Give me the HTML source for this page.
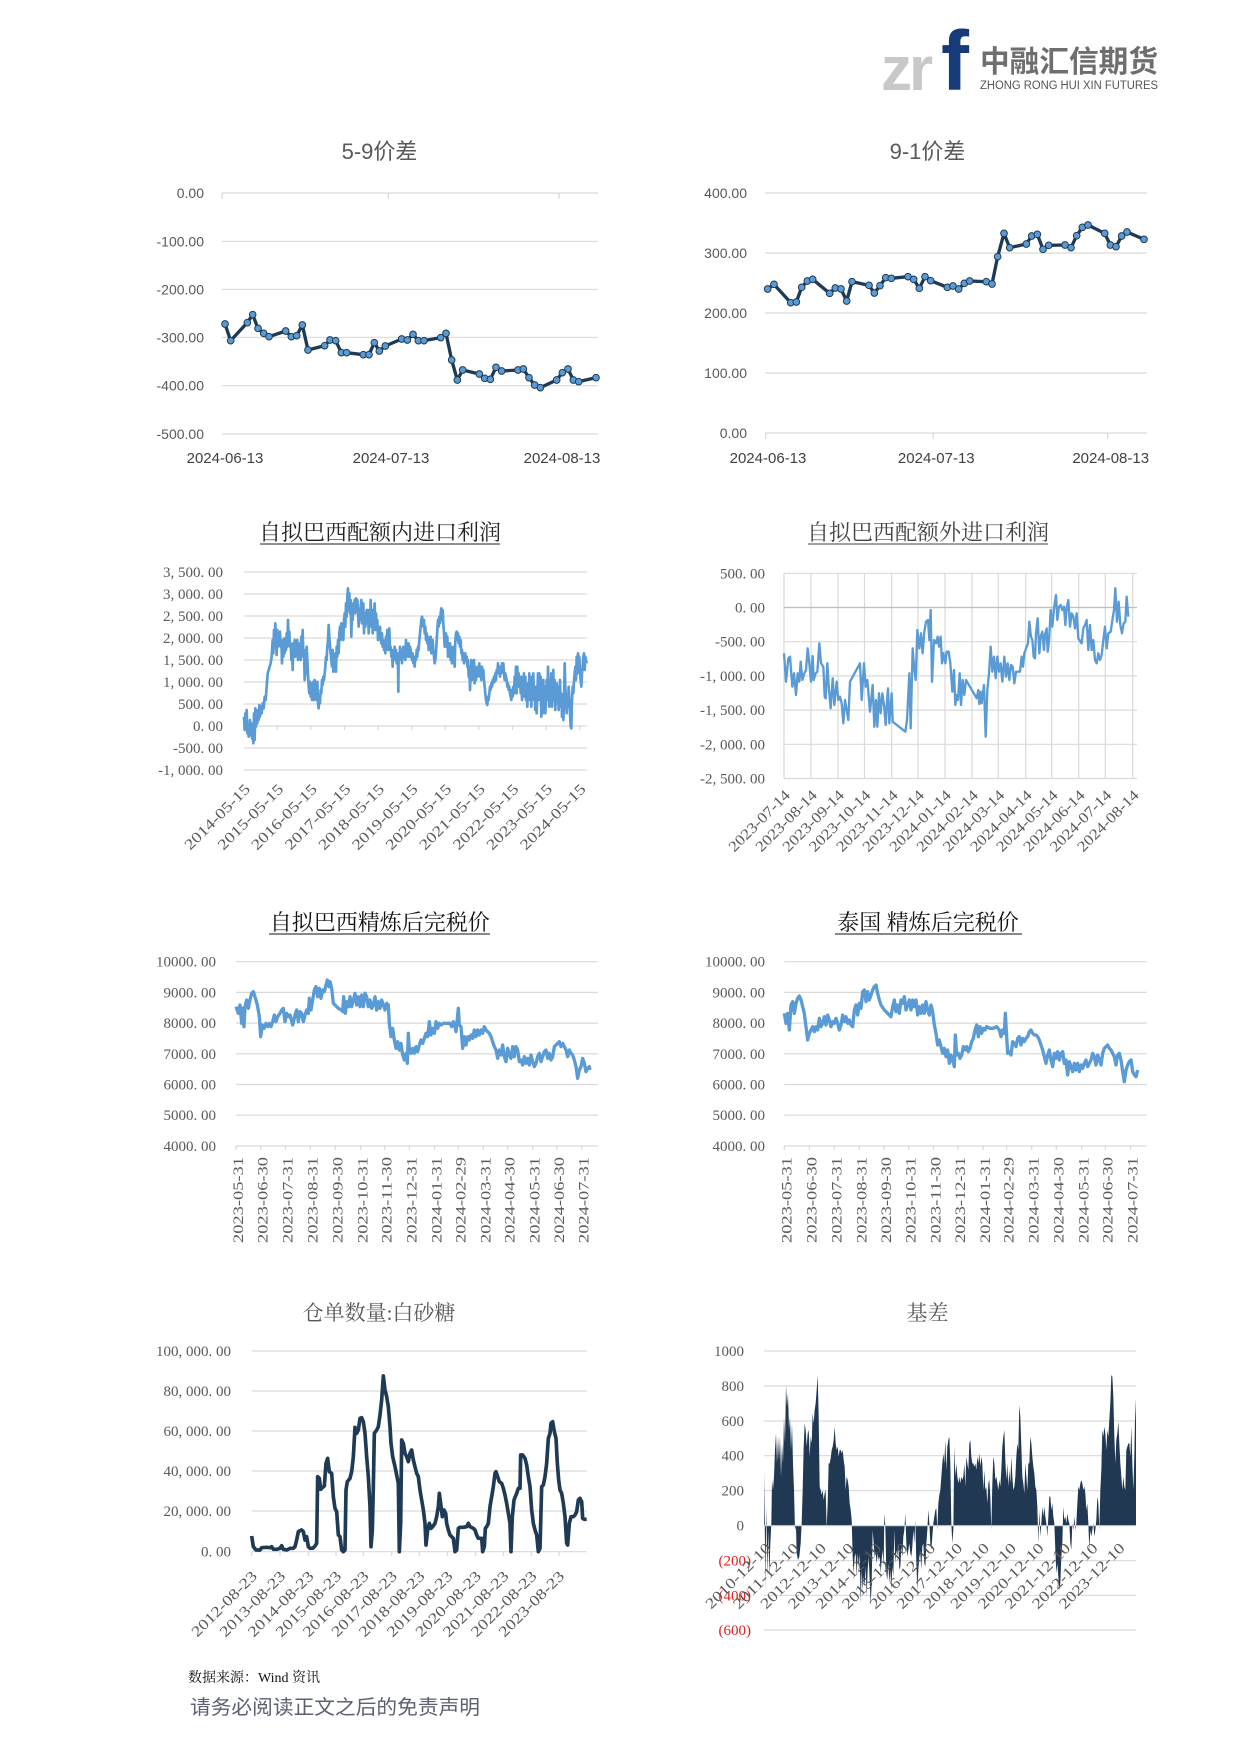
<!DOCTYPE html>
<html><head><meta charset="utf-8"><style>
html,body{margin:0;padding:0;background:#fff;}
svg{display:block;}
.sans{font-family:"Liberation Sans","Noto Sans CJK SC",sans-serif;}
.serif{font-family:"Liberation Serif","Noto Serif CJK SC",serif;}
.g{stroke:#d9d9d9;stroke-width:1.2;}
.yl{font-size:15px;fill:#595959;text-anchor:end;font-family:"Liberation Serif","Noto Serif CJK SC",serif;}
.ys{font-size:14px;fill:#595959;text-anchor:end;font-family:"Liberation Sans","Noto Sans CJK SC",sans-serif;}
.xs{font-size:15px;fill:#404040;text-anchor:middle;font-family:"Liberation Sans","Noto Sans CJK SC",sans-serif;}
.xr{font-size:15px;fill:#595959;text-anchor:end;font-family:"Liberation Serif","Noto Serif CJK SC",serif;}
</style></head><body>
<svg width="1241" height="1755" viewBox="0 0 1241 1755" xmlns="http://www.w3.org/2000/svg">
<defs>
<marker id="dot" markerUnits="userSpaceOnUse" markerWidth="26" markerHeight="26" refX="13" refY="13" viewBox="0 0 26 26" orient="0">
<circle cx="13" cy="13" r="10" fill="#5B9BD5" stroke="#1F3A55" stroke-width="3"/>
</marker>
</defs>
<rect width="1241" height="1755" fill="#fff"/>

<!-- LOGO -->
<text x="881" y="90" class="sans" font-size="62" font-weight="bold" fill="#c8c8c8" letter-spacing="-3">zr</text>
<text x="941" y="90" class="sans" font-size="84" font-weight="bold" fill="#173a7a">f</text>
<text x="980" y="72" font-family="'Noto Sans CJK SC',sans-serif" font-size="30" font-weight="bold" fill="#6e6e6e" textLength="178" lengthAdjust="spacingAndGlyphs">中融汇信期货</text>
<text x="980" y="89" class="sans" font-size="11.5" fill="#555" textLength="178" lengthAdjust="spacingAndGlyphs">ZHONG RONG HUI XIN FUTURES</text>

<!-- ===== ROW 1 LEFT: 5-9 ===== -->
<text x="379.5" y="159" class="sans" font-size="22" fill="#595959" text-anchor="middle">5-9价差</text>
<g class="g">
<line x1="222" y1="193" x2="598" y2="193"/><line x1="222" y1="241.3" x2="598" y2="241.3"/><line x1="222" y1="289.3" x2="598" y2="289.3"/><line x1="222" y1="337.3" x2="598" y2="337.3"/><line x1="222" y1="385.7" x2="598" y2="385.7"/><line x1="222" y1="434" x2="598" y2="434"/>
<line x1="222" y1="193" x2="222" y2="199"/><line x1="388.3" y1="193" x2="388.3" y2="199"/><line x1="559" y1="193" x2="559" y2="199"/>
</g>
<text class="ys" x="204" y="198">0.00</text>
<text class="ys" x="204" y="246.3">-100.00</text>
<text class="ys" x="204" y="294.3">-200.00</text>
<text class="ys" x="204" y="342.3">-300.00</text>
<text class="ys" x="204" y="390.7">-400.00</text>
<text class="ys" x="204" y="439">-500.00</text>
<text class="xs" x="225" y="463">2024-06-13</text>
<text class="xs" x="391" y="463">2024-07-13</text>
<text class="xs" x="562" y="463">2024-08-13</text>
<g transform="translate(130,120) scale(0.333333)">
<polyline fill="none" stroke="#1F3A55" stroke-width="10" stroke-linejoin="round" marker-start="url(#dot)" marker-mid="url(#dot)" marker-end="url(#dot)" points="285,612 302,662 352,608 368,584 384,625 401,640 417,650 467,633 484,650 500,647 517,615 534,690 584,677 600,660 617,662 634,698 650,698 700,704 717,704 733,668 748,693 766,678 815,657 832,660 849,643 865,662 882,662 932,653 948,640 965,720 982,780 998,750 1048,762 1064,775 1081,778 1098,742 1115,753 1164,750 1180,747 1197,773 1214,795 1231,803 1280,780 1297,758 1314,747 1330,780 1346,785 1398,773"/>
</g>

<!-- ===== ROW 1 RIGHT: 9-1 ===== -->
<text x="927.5" y="159" class="sans" font-size="22" fill="#595959" text-anchor="middle">9-1价差</text>
<g class="g">
<line x1="765" y1="193" x2="1147" y2="193"/><line x1="765" y1="253" x2="1147" y2="253"/><line x1="765" y1="313" x2="1147" y2="313"/><line x1="765" y1="373" x2="1147" y2="373"/><line x1="765" y1="433" x2="1147" y2="433"/>
<line x1="765.7" y1="433" x2="765.7" y2="439"/><line x1="933.3" y1="433" x2="933.3" y2="439"/><line x1="1107.7" y1="433" x2="1107.7" y2="439"/>
</g>
<text class="ys" x="747" y="198">400.00</text>
<text class="ys" x="747" y="258">300.00</text>
<text class="ys" x="747" y="318">200.00</text>
<text class="ys" x="747" y="378">100.00</text>
<text class="ys" x="747" y="438">0.00</text>
<text class="xs" x="768" y="463">2024-06-13</text>
<text class="xs" x="936.3" y="463">2024-07-13</text>
<text class="xs" x="1110.7" y="463">2024-08-13</text>
<g transform="translate(670,120) scale(0.333333)">
<polyline fill="none" stroke="#1F3A55" stroke-width="10" stroke-linejoin="round" marker-start="url(#dot)" marker-mid="url(#dot)" marker-end="url(#dot)" points="293,507 312,493 362,548 379,546 395,502 412,483 428,478 479,520 496,504 513,507 530,543 546,485 597,496 613,519 630,497 647,473 664,475 714,470 731,478 748,505 765,470 782,482 832,502 849,498 866,507 883,490 899,483 949,485 966,492 983,410 1002,340 1019,383 1069,372 1085,348 1102,343 1119,388 1136,376 1185,375 1203,383 1220,347 1237,322 1254,315 1304,340 1321,375 1338,380 1355,348 1371,336 1422,358"/>
</g>

<!-- ===== ROW 2 LEFT ===== -->
<text x="380" y="540" class="serif" font-size="22" fill="#222" text-anchor="middle">自拟巴西配额内进口利润</text>
<line x1="260" y1="544" x2="500" y2="544" stroke="#222" stroke-width="1"/>
<g class="g">
<line x1="244" y1="572" x2="587" y2="572"/><line x1="244" y1="594" x2="587" y2="594"/><line x1="244" y1="616" x2="587" y2="616"/><line x1="244" y1="638" x2="587" y2="638"/><line x1="244" y1="660" x2="587" y2="660"/><line x1="244" y1="682" x2="587" y2="682"/><line x1="244" y1="704" x2="587" y2="704"/><line x1="244" y1="726" x2="587" y2="726"/><line x1="244" y1="748" x2="587" y2="748"/><line x1="244" y1="770" x2="587" y2="770"/>
<line x1="244" y1="726" x2="244" y2="730"/><line x1="277.3" y1="726" x2="277.3" y2="730"/><line x1="310.9" y1="726" x2="310.9" y2="730"/><line x1="344.5" y1="726" x2="344.5" y2="730"/><line x1="378.1" y1="726" x2="378.1" y2="730"/><line x1="411.7" y1="726" x2="411.7" y2="730"/><line x1="445.3" y1="726" x2="445.3" y2="730"/><line x1="478.9" y1="726" x2="478.9" y2="730"/><line x1="512.5" y1="726" x2="512.5" y2="730"/><line x1="546.1" y1="726" x2="546.1" y2="730"/><line x1="579.7" y1="726" x2="579.7" y2="730"/>
</g>
<text class="yl" x="223" y="577">3, 500. 00</text>
<text class="yl" x="223" y="599">3, 000. 00</text>
<text class="yl" x="223" y="621">2, 500. 00</text>
<text class="yl" x="223" y="643">2, 000. 00</text>
<text class="yl" x="223" y="665">1, 500. 00</text>
<text class="yl" x="223" y="687">1, 000. 00</text>
<text class="yl" x="223" y="709">500. 00</text>
<text class="yl" x="223" y="731">0. 00</text>
<text class="yl" x="223" y="753">-500. 00</text>
<text class="yl" x="223" y="775">-1, 000. 00</text>
<g class="xr" font-size="16">
<text x="251" y="790" transform="rotate(-45 251 790)" textLength="86" lengthAdjust="spacingAndGlyphs">2014-05-15</text>
<text x="284.3" y="790" transform="rotate(-45 284.3 790)" textLength="86" lengthAdjust="spacingAndGlyphs">2015-05-15</text>
<text x="317.9" y="790" transform="rotate(-45 317.9 790)" textLength="86" lengthAdjust="spacingAndGlyphs">2016-05-15</text>
<text x="351.5" y="790" transform="rotate(-45 351.5 790)" textLength="86" lengthAdjust="spacingAndGlyphs">2017-05-15</text>
<text x="385.1" y="790" transform="rotate(-45 385.1 790)" textLength="86" lengthAdjust="spacingAndGlyphs">2018-05-15</text>
<text x="418.7" y="790" transform="rotate(-45 418.7 790)" textLength="86" lengthAdjust="spacingAndGlyphs">2019-05-15</text>
<text x="452.3" y="790" transform="rotate(-45 452.3 790)" textLength="86" lengthAdjust="spacingAndGlyphs">2020-05-15</text>
<text x="485.9" y="790" transform="rotate(-45 485.9 790)" textLength="86" lengthAdjust="spacingAndGlyphs">2021-05-15</text>
<text x="519.5" y="790" transform="rotate(-45 519.5 790)" textLength="86" lengthAdjust="spacingAndGlyphs">2022-05-15</text>
<text x="553.1" y="790" transform="rotate(-45 553.1 790)" textLength="86" lengthAdjust="spacingAndGlyphs">2023-05-15</text>
<text x="586.7" y="790" transform="rotate(-45 586.7 790)" textLength="86" lengthAdjust="spacingAndGlyphs">2024-05-15</text>
</g>
<g transform="translate(120,500) scale(0.333333)">
<polyline fill="none" stroke="#5B9BD5" stroke-width="8" stroke-linejoin="round" points="372,650 374,690 376,640 378,660 380,630 382,700 384,680 386,710 388,690 390,660 392,705 394,670 396,715 398,690 400,730 402,640 404,720 406,625 408,680 410,650 412,670 414,630 416,660 418,615 420,650 422,620 425,640 428,610 431,625 434,590 437,600 440,560 443,520 446,510 449,500 452,490 455,470 458,420 460,460 462,390 464,440 466,370 468,430 470,465 472,390 474,440 476,400 478,420 480,395 482,440 484,420 486,490 488,430 490,470 492,415 494,460 496,430 498,450 500,400 502,440 504,360 506,420 508,395 510,440 512,430 514,480 516,440 518,510 520,430 522,460 524,420 526,470 528,440 530,450 532,420 534,480 536,430 538,460 540,440 542,480 544,410 546,440 548,390 550,470 552,450 554,540 556,520 558,470 560,440 562,480 564,520 566,560 568,580 570,545 572,590 574,550 576,600 578,590 580,545 582,600 584,540 586,580 588,560 590,600 592,545 594,610 596,625 598,590 600,610 602,570 604,580 606,540 608,555 610,530 612,540 614,520 616,500 618,470 620,480 622,440 624,420 626,375 628,410 630,440 632,460 634,480 636,500 638,450 640,515 642,470 644,500 646,460 648,515 650,440 652,470 654,420 656,460 658,400 660,380 662,420 664,370 666,400 668,380 670,420 672,360 674,340 676,380 678,310 680,350 682,290 684,265 686,330 688,280 690,340 692,300 694,410 696,330 698,360 700,310 702,330 704,300 706,340 708,295 710,320 712,300 714,330 716,380 718,330 720,360 722,320 724,300 726,370 728,340 730,310 732,400 734,340 736,380 738,350 740,330 742,370 744,330 746,400 748,350 750,380 752,300 754,370 756,330 758,400 760,360 762,340 764,310 766,390 768,340 770,380 772,360 774,420 776,390 778,410 780,380 782,420 784,430 786,400 788,440 790,420 792,450 794,430 796,460 798,410 800,440 802,390 804,450 806,420 808,385 810,450 812,440 814,470 816,460 818,500 820,450 822,480 824,440 826,470 828,450 830,490 832,460 834,500 835,575 836,470 838,480 840,440 842,470 844,450 846,490 848,460 850,440 852,470 854,450 856,480 858,420 860,450 862,460 864,470 866,430 868,470 870,440 872,450 874,470 876,480 878,460 880,490 882,470 884,500 886,470 888,480 890,450 892,470 894,440 896,450 898,420 900,400 902,380 904,360 906,350 908,365 910,380 912,360 914,400 916,380 918,420 920,400 922,430 924,410 926,450 928,420 930,440 932,410 934,460 936,430 938,420 940,450 942,470 944,490 946,480 948,460 950,420 952,390 954,360 956,380 958,350 960,370 962,340 964,325 966,360 968,330 970,370 972,400 974,440 976,420 978,400 980,440 982,410 984,470 986,430 988,460 990,430 992,480 994,440 996,490 998,460 1000,470 1002,440 1004,500 1006,420 1008,400 1010,395 1012,420 1014,400 1016,430 1018,410 1020,440 1022,420 1024,460 1026,450 1028,480 1030,460 1032,490 1034,470 1036,460 1038,480 1040,470 1042,500 1044,480 1046,530 1048,500 1050,570 1052,520 1054,480 1056,540 1058,490 1060,520 1062,480 1064,550 1066,500 1068,540 1070,510 1072,530 1074,500 1076,520 1078,490 1080,530 1082,510 1084,540 1086,500 1088,520 1090,510 1092,540 1094,560 1096,580 1098,600 1100,610 1102,615 1104,590 1106,600 1108,580 1110,560 1112,570 1114,550 1116,560 1118,540 1120,550 1122,530 1124,545 1126,520 1128,540 1130,510 1132,520 1134,490 1136,520 1138,500 1140,530 1142,500 1144,520 1146,490 1148,510 1150,490 1152,520 1154,540 1156,520 1158,530 1160,540 1162,560 1164,550 1166,570 1168,560 1170,580 1172,590 1174,600 1176,570 1178,590 1180,560 1182,580 1184,530 1186,560 1188,500 1190,580 1192,500 1194,560 1196,520 1198,560 1200,540 1202,580 1204,530 1206,600 1208,540 1210,570 1212,520 1214,590 1216,530 1218,600 1220,550 1222,620 1224,560 1226,600 1228,520 1230,580 1232,540 1234,620 1236,530 1238,580 1240,520 1242,600 1244,560 1246,630 1248,560 1250,640 1252,580 1254,520 1256,600 1258,520 1260,590 1262,530 1264,650 1266,580 1268,640 1270,540 1272,620 1274,560 1276,640 1278,600 1280,540 1282,600 1284,500 1286,560 1288,620 1290,540 1292,600 1294,520 1296,620 1298,560 1300,510 1302,600 1304,540 1306,630 1308,580 1310,550 1312,610 1314,560 1316,630 1318,600 1320,540 1322,620 1324,580 1326,650 1328,600 1330,660 1332,600 1334,490 1336,560 1338,600 1340,640 1342,590 1344,620 1346,560 1348,600 1350,640 1352,680 1354,685 1356,600 1358,560 1360,580 1362,540 1364,520 1366,500 1368,540 1370,470 1372,520 1374,460 1376,500 1378,470 1380,520 1382,540 1384,560 1386,520 1388,500 1390,470 1392,460 1394,510 1396,470 1398,480 1400,490"/>
</g>

<!-- ===== ROW 2 RIGHT ===== -->
<text x="928" y="540" class="serif" font-size="22" fill="#444" text-anchor="middle">自拟巴西配额外进口利润</text>
<line x1="808" y1="544" x2="1048" y2="544" stroke="#444" stroke-width="1"/>
<g class="g">
<line x1="784" y1="573.3" x2="1137" y2="573.3"/><line x1="784" y1="607.5" x2="1137" y2="607.5"/><line x1="784" y1="641.7" x2="1137" y2="641.7"/><line x1="784" y1="675.9" x2="1137" y2="675.9"/><line x1="784" y1="710.1" x2="1137" y2="710.1"/><line x1="784" y1="744.3" x2="1137" y2="744.3"/><line x1="784" y1="778.5" x2="1137" y2="778.5"/>
<line x1="784" y1="573.3" x2="784" y2="778.5"/><line x1="811" y1="573.3" x2="811" y2="778.5"/><line x1="838" y1="573.3" x2="838" y2="778.5"/><line x1="864.5" y1="573.3" x2="864.5" y2="778.5"/><line x1="891.7" y1="573.3" x2="891.7" y2="778.5"/><line x1="918" y1="573.3" x2="918" y2="778.5"/><line x1="945" y1="573.3" x2="945" y2="778.5"/><line x1="972" y1="573.3" x2="972" y2="778.5"/><line x1="998.3" y1="573.3" x2="998.3" y2="778.5"/><line x1="1025.7" y1="573.3" x2="1025.7" y2="778.5"/><line x1="1051.7" y1="573.3" x2="1051.7" y2="778.5"/><line x1="1078.7" y1="573.3" x2="1078.7" y2="778.5"/><line x1="1105.3" y1="573.3" x2="1105.3" y2="778.5"/><line x1="1132.7" y1="573.3" x2="1132.7" y2="778.5"/>
</g>
<line x1="784" y1="607.5" x2="1137" y2="607.5" stroke="#bfbfbf" stroke-width="1.2"/>
<text class="yl" x="765" y="578.3">500. 00</text>
<text class="yl" x="765" y="612.5">0. 00</text>
<text class="yl" x="765" y="646.7">-500. 00</text>
<text class="yl" x="765" y="680.9">-1, 000. 00</text>
<text class="yl" x="765" y="715.1">-1, 500. 00</text>
<text class="yl" x="765" y="749.3">-2, 000. 00</text>
<text class="yl" x="765" y="783.5">-2, 500. 00</text>
<g class="xr" font-size="14">
<text x="791" y="796" transform="rotate(-45 791 796)" textLength="80" lengthAdjust="spacingAndGlyphs">2023-07-14</text>
<text x="818" y="796" transform="rotate(-45 818 796)" textLength="80" lengthAdjust="spacingAndGlyphs">2023-08-14</text>
<text x="845" y="796" transform="rotate(-45 845 796)" textLength="80" lengthAdjust="spacingAndGlyphs">2023-09-14</text>
<text x="871.5" y="796" transform="rotate(-45 871.5 796)" textLength="80" lengthAdjust="spacingAndGlyphs">2023-10-14</text>
<text x="898.7" y="796" transform="rotate(-45 898.7 796)" textLength="80" lengthAdjust="spacingAndGlyphs">2023-11-14</text>
<text x="925" y="796" transform="rotate(-45 925 796)" textLength="80" lengthAdjust="spacingAndGlyphs">2023-12-14</text>
<text x="952" y="796" transform="rotate(-45 952 796)" textLength="80" lengthAdjust="spacingAndGlyphs">2024-01-14</text>
<text x="979" y="796" transform="rotate(-45 979 796)" textLength="80" lengthAdjust="spacingAndGlyphs">2024-02-14</text>
<text x="1005.3" y="796" transform="rotate(-45 1005.3 796)" textLength="80" lengthAdjust="spacingAndGlyphs">2024-03-14</text>
<text x="1032.7" y="796" transform="rotate(-45 1032.7 796)" textLength="80" lengthAdjust="spacingAndGlyphs">2024-04-14</text>
<text x="1058.7" y="796" transform="rotate(-45 1058.7 796)" textLength="80" lengthAdjust="spacingAndGlyphs">2024-05-14</text>
<text x="1085.7" y="796" transform="rotate(-45 1085.7 796)" textLength="80" lengthAdjust="spacingAndGlyphs">2024-06-14</text>
<text x="1112.3" y="796" transform="rotate(-45 1112.3 796)" textLength="80" lengthAdjust="spacingAndGlyphs">2024-07-14</text>
<text x="1139.7" y="796" transform="rotate(-45 1139.7 796)" textLength="80" lengthAdjust="spacingAndGlyphs">2024-08-14</text>
</g>
<g transform="translate(660,500) scale(0.333333)">
<polyline fill="none" stroke="#5B9BD5" stroke-width="7" stroke-linejoin="round" points="372,460 378,545 385,475 390,470 397,560 402,520 408,585 413,520 418,545 422,485 427,540 433,520 438,510 443,445 448,490 453,545 458,468 461,540 467,520 472,515 478,430 483,490 490,500 494,590 497,595 502,490 507,570 512,625 518,535 523,615 530,545 535,600 540,590 545,610 550,670 555,600 560,630 565,660 570,545 600,490 605,600 612,490 617,560 622,540 630,635 638,555 643,680 648,600 652,680 657,580 662,640 667,580 672,615 677,675 680,620 684,565 688,670 695,580 698,665 736,695 741,660 748,520 752,685 758,445 762,500 767,540 772,390 778,445 783,400 788,460 793,395 798,365 804,360 808,420 812,330 816,545 822,420 828,430 833,410 837,440 842,410 846,490 850,460 856,490 860,455 866,455 871,490 877,575 882,510 886,615 890,585 894,600 899,520 903,615 908,540 913,585 918,540 950,595 955,570 958,612 962,575 965,610 972,555 977,710 982,570 987,520 992,440 997,515 1002,470 1007,535 1012,470 1017,515 1022,490 1027,545 1033,470 1038,530 1043,490 1048,540 1053,495 1058,500 1063,550 1068,515 1080,515 1085,470 1089,500 1093,460 1100,440 1104,430 1108,365 1113,410 1117,420 1121,470 1125,475 1128,400 1133,355 1138,460 1142,410 1147,395 1152,450 1155,405 1160,385 1163,455 1167,425 1172,330 1177,380 1182,325 1188,285 1192,360 1197,320 1202,315 1207,330 1212,320 1216,375 1220,325 1225,300 1230,380 1235,340 1240,350 1245,385 1250,340 1255,415 1265,430 1270,385 1275,375 1280,360 1285,450 1290,375 1295,450 1300,420 1305,480 1310,490 1315,460 1320,480 1325,465 1330,420 1335,380 1340,445 1345,400 1352,395 1358,355 1362,330 1366,265 1371,365 1376,305 1381,375 1386,400 1391,370 1396,365 1400,290 1405,350"/>
</g>

<!-- ===== ROW 3 LEFT ===== -->
<text x="379.7" y="930" class="serif" font-size="22" fill="#111" text-anchor="middle">自拟巴西精炼后完税价</text>
<line x1="269" y1="934" x2="490" y2="934" stroke="#111" stroke-width="1"/>
<g class="g">
<line x1="236" y1="961.7" x2="598" y2="961.7"/><line x1="236" y1="992.4" x2="598" y2="992.4"/><line x1="236" y1="1023.1" x2="598" y2="1023.1"/><line x1="236" y1="1053.8" x2="598" y2="1053.8"/><line x1="236" y1="1084.5" x2="598" y2="1084.5"/><line x1="236" y1="1115.2" x2="598" y2="1115.2"/><line x1="236" y1="1146" x2="598" y2="1146"/>
<line x1="236" y1="1146" x2="236" y2="1150"/><line x1="260.7" y1="1146" x2="260.7" y2="1150"/><line x1="285.3" y1="1146" x2="285.3" y2="1150"/><line x1="310.3" y1="1146" x2="310.3" y2="1150"/><line x1="335.3" y1="1146" x2="335.3" y2="1150"/><line x1="360.7" y1="1146" x2="360.7" y2="1150"/><line x1="384.7" y1="1146" x2="384.7" y2="1150"/><line x1="409.3" y1="1146" x2="409.3" y2="1150"/><line x1="434.7" y1="1146" x2="434.7" y2="1150"/><line x1="458.3" y1="1146" x2="458.3" y2="1150"/><line x1="483.3" y1="1146" x2="483.3" y2="1150"/><line x1="507.7" y1="1146" x2="507.7" y2="1150"/><line x1="532.7" y1="1146" x2="532.7" y2="1150"/><line x1="557" y1="1146" x2="557" y2="1150"/><line x1="581.7" y1="1146" x2="581.7" y2="1150"/>
</g>
<g class="yl" fill="#404040">
<text x="216" y="966.7">10000. 00</text>
<text x="216" y="997.4">9000. 00</text>
<text x="216" y="1028.1">8000. 00</text>
<text x="216" y="1058.8">7000. 00</text>
<text x="216" y="1089.5">6000. 00</text>
<text x="216" y="1120.2">5000. 00</text>
<text x="216" y="1151">4000. 00</text>
</g>
<g class="xr" font-size="16" fill="#404040">
<text x="243" y="1157" transform="rotate(-90 243 1157)" textLength="86" lengthAdjust="spacingAndGlyphs">2023-05-31</text>
<text x="267.7" y="1157" transform="rotate(-90 267.7 1157)" textLength="86" lengthAdjust="spacingAndGlyphs">2023-06-30</text>
<text x="292.3" y="1157" transform="rotate(-90 292.3 1157)" textLength="86" lengthAdjust="spacingAndGlyphs">2023-07-31</text>
<text x="317.3" y="1157" transform="rotate(-90 317.3 1157)" textLength="86" lengthAdjust="spacingAndGlyphs">2023-08-31</text>
<text x="342.3" y="1157" transform="rotate(-90 342.3 1157)" textLength="86" lengthAdjust="spacingAndGlyphs">2023-09-30</text>
<text x="367.7" y="1157" transform="rotate(-90 367.7 1157)" textLength="86" lengthAdjust="spacingAndGlyphs">2023-10-31</text>
<text x="391.7" y="1157" transform="rotate(-90 391.7 1157)" textLength="86" lengthAdjust="spacingAndGlyphs">2023-11-30</text>
<text x="416.3" y="1157" transform="rotate(-90 416.3 1157)" textLength="86" lengthAdjust="spacingAndGlyphs">2023-12-31</text>
<text x="441.7" y="1157" transform="rotate(-90 441.7 1157)" textLength="86" lengthAdjust="spacingAndGlyphs">2024-01-31</text>
<text x="465.3" y="1157" transform="rotate(-90 465.3 1157)" textLength="86" lengthAdjust="spacingAndGlyphs">2024-02-29</text>
<text x="490.3" y="1157" transform="rotate(-90 490.3 1157)" textLength="86" lengthAdjust="spacingAndGlyphs">2024-03-31</text>
<text x="514.7" y="1157" transform="rotate(-90 514.7 1157)" textLength="86" lengthAdjust="spacingAndGlyphs">2024-04-30</text>
<text x="539.7" y="1157" transform="rotate(-90 539.7 1157)" textLength="86" lengthAdjust="spacingAndGlyphs">2024-05-31</text>
<text x="564" y="1157" transform="rotate(-90 564 1157)" textLength="86" lengthAdjust="spacingAndGlyphs">2024-06-30</text>
<text x="588.7" y="1157" transform="rotate(-90 588.7 1157)" textLength="86" lengthAdjust="spacingAndGlyphs">2024-07-31</text>
</g>
<g transform="translate(130,890) scale(0.333333)">
<polyline fill="none" stroke="#5B9BD5" stroke-width="10" stroke-linejoin="round" points="318,350 325,370 330,345 335,400 338,355 342,410 345,350 350,330 355,355 360,330 365,310 370,305 375,320 382,345 388,380 392,440 397,405 402,415 408,400 413,410 418,400 423,410 428,395 433,375 438,395 443,380 450,370 455,360 460,355 465,395 470,370 475,380 480,375 488,405 495,375 500,360 505,395 510,365 515,370 520,395 525,375 530,360 535,370 538,325 543,360 548,330 553,300 558,290 563,320 568,295 573,325 578,300 583,305 588,285 592,270 597,290 600,275 605,295 610,340 615,345 625,355 635,360 638,365 641,320 646,370 650,335 656,350 660,320 665,350 670,330 675,310 680,345 685,320 690,350 695,315 700,350 705,310 710,320 715,350 720,330 725,355 730,345 735,320 740,360 745,335 750,355 755,330 760,345 765,360 770,340 775,345 778,400 783,440 788,415 793,450 798,475 803,455 808,480 813,460 818,495 823,510 828,490 832,520 835,430 838,480 843,490 848,475 853,490 858,470 863,485 868,465 873,450 878,460 883,445 888,430 893,440 898,395 903,435 908,415 913,430 918,395 923,415 928,400 933,405 940,400 950,400 960,400 965,410 970,395 975,410 978,425 982,385 985,355 988,405 993,410 998,475 1003,440 1008,465 1013,440 1018,450 1023,435 1028,445 1033,420 1038,440 1043,420 1048,435 1053,420 1058,430 1063,410 1068,420 1073,425 1078,430 1083,440 1088,455 1093,470 1098,480 1103,505 1108,480 1113,495 1118,465 1123,500 1128,515 1133,475 1138,495 1143,505 1148,470 1153,500 1158,470 1163,480 1168,515 1173,510 1178,525 1183,500 1188,520 1193,505 1198,525 1203,495 1208,515 1213,530 1218,520 1223,500 1228,490 1233,515 1238,500 1243,485 1248,480 1253,505 1258,490 1263,510 1268,500 1273,470 1278,465 1283,460 1288,455 1293,470 1298,460 1303,470 1308,480 1313,500 1318,480 1323,490 1328,495 1333,510 1338,530 1343,565 1348,540 1353,530 1358,505 1363,520 1368,545 1373,535 1378,530 1380,540"/>
</g>

<!-- ===== ROW 3 RIGHT ===== -->
<text x="928" y="930" class="serif" font-size="22" fill="#111" text-anchor="middle">泰国 精炼后完税价</text>
<line x1="835" y1="934" x2="1022" y2="934" stroke="#111" stroke-width="1"/>
<g class="g">
<line x1="784.3" y1="961.7" x2="1146.7" y2="961.7"/><line x1="784.3" y1="992.4" x2="1146.7" y2="992.4"/><line x1="784.3" y1="1023.1" x2="1146.7" y2="1023.1"/><line x1="784.3" y1="1053.8" x2="1146.7" y2="1053.8"/><line x1="784.3" y1="1084.5" x2="1146.7" y2="1084.5"/><line x1="784.3" y1="1115.2" x2="1146.7" y2="1115.2"/><line x1="784.3" y1="1146" x2="1146.7" y2="1146"/>
<line x1="784.3" y1="1146" x2="784.3" y2="1150"/><line x1="809.3" y1="1146" x2="809.3" y2="1150"/><line x1="834.3" y1="1146" x2="834.3" y2="1150"/><line x1="859.3" y1="1146" x2="859.3" y2="1150"/><line x1="884" y1="1146" x2="884" y2="1150"/><line x1="908.7" y1="1146" x2="908.7" y2="1150"/><line x1="933.3" y1="1146" x2="933.3" y2="1150"/><line x1="958" y1="1146" x2="958" y2="1150"/><line x1="983" y1="1146" x2="983" y2="1150"/><line x1="1006.7" y1="1146" x2="1006.7" y2="1150"/><line x1="1031.7" y1="1146" x2="1031.7" y2="1150"/><line x1="1056.3" y1="1146" x2="1056.3" y2="1150"/><line x1="1081.7" y1="1146" x2="1081.7" y2="1150"/><line x1="1105.3" y1="1146" x2="1105.3" y2="1150"/><line x1="1130.7" y1="1146" x2="1130.7" y2="1150"/>
</g>
<g class="yl" fill="#404040">
<text x="765" y="966.7">10000. 00</text>
<text x="765" y="997.4">9000. 00</text>
<text x="765" y="1028.1">8000. 00</text>
<text x="765" y="1058.8">7000. 00</text>
<text x="765" y="1089.5">6000. 00</text>
<text x="765" y="1120.2">5000. 00</text>
<text x="765" y="1151">4000. 00</text>
</g>
<g class="xr" font-size="16" fill="#404040">
<text x="791.3" y="1157" transform="rotate(-90 791.3 1157)" textLength="86" lengthAdjust="spacingAndGlyphs">2023-05-31</text>
<text x="816.3" y="1157" transform="rotate(-90 816.3 1157)" textLength="86" lengthAdjust="spacingAndGlyphs">2023-06-30</text>
<text x="841.3" y="1157" transform="rotate(-90 841.3 1157)" textLength="86" lengthAdjust="spacingAndGlyphs">2023-07-31</text>
<text x="866.3" y="1157" transform="rotate(-90 866.3 1157)" textLength="86" lengthAdjust="spacingAndGlyphs">2023-08-31</text>
<text x="891" y="1157" transform="rotate(-90 891 1157)" textLength="86" lengthAdjust="spacingAndGlyphs">2023-09-30</text>
<text x="915.7" y="1157" transform="rotate(-90 915.7 1157)" textLength="86" lengthAdjust="spacingAndGlyphs">2023-10-31</text>
<text x="940.3" y="1157" transform="rotate(-90 940.3 1157)" textLength="86" lengthAdjust="spacingAndGlyphs">2023-11-30</text>
<text x="965" y="1157" transform="rotate(-90 965 1157)" textLength="86" lengthAdjust="spacingAndGlyphs">2023-12-31</text>
<text x="990" y="1157" transform="rotate(-90 990 1157)" textLength="86" lengthAdjust="spacingAndGlyphs">2024-01-31</text>
<text x="1013.7" y="1157" transform="rotate(-90 1013.7 1157)" textLength="86" lengthAdjust="spacingAndGlyphs">2024-02-29</text>
<text x="1038.7" y="1157" transform="rotate(-90 1038.7 1157)" textLength="86" lengthAdjust="spacingAndGlyphs">2024-03-31</text>
<text x="1063.3" y="1157" transform="rotate(-90 1063.3 1157)" textLength="86" lengthAdjust="spacingAndGlyphs">2024-04-30</text>
<text x="1088.7" y="1157" transform="rotate(-90 1088.7 1157)" textLength="86" lengthAdjust="spacingAndGlyphs">2024-05-31</text>
<text x="1112.3" y="1157" transform="rotate(-90 1112.3 1157)" textLength="86" lengthAdjust="spacingAndGlyphs">2024-06-30</text>
<text x="1137.7" y="1157" transform="rotate(-90 1137.7 1157)" textLength="86" lengthAdjust="spacingAndGlyphs">2024-07-31</text>
</g>
<g transform="translate(680,890) scale(0.333333)">
<polyline fill="none" stroke="#5B9BD5" stroke-width="10" stroke-linejoin="round" points="313,370 318,400 323,370 328,420 333,345 338,335 343,370 348,340 353,325 358,318 363,330 368,350 373,370 378,410 383,450 388,430 393,420 398,410 403,425 408,410 413,420 418,385 423,410 428,400 433,380 438,405 443,375 448,390 453,410 458,395 463,400 468,385 473,400 478,420 483,405 488,375 493,395 498,380 503,400 508,390 513,405 518,410 523,360 528,345 533,375 538,340 543,355 548,305 553,300 558,335 563,305 568,330 573,315 578,300 583,290 588,285 593,310 598,330 603,345 613,360 623,370 633,380 638,350 643,330 648,365 653,345 658,370 663,330 668,340 673,320 678,360 683,345 688,330 693,360 698,330 703,350 708,330 713,375 718,350 723,370 728,345 733,370 738,335 743,360 748,375 753,345 758,365 763,405 768,430 773,465 778,450 783,470 788,490 793,475 798,500 803,480 808,520 813,495 818,510 823,530 826,435 830,495 835,490 840,505 845,495 850,470 855,480 860,470 865,485 870,475 875,455 880,445 885,420 890,405 895,440 900,410 905,430 910,415 915,420 920,410 930,415 940,415 950,410 958,420 963,440 968,420 973,430 976,370 980,440 983,490 988,485 993,495 998,455 1003,460 1008,470 1013,445 1018,440 1023,465 1028,445 1033,455 1038,445 1043,440 1048,425 1053,420 1058,430 1063,435 1068,435 1073,440 1078,450 1083,465 1088,480 1093,500 1098,520 1103,495 1108,480 1113,510 1118,530 1123,490 1128,505 1133,485 1138,510 1143,490 1148,485 1153,520 1158,510 1163,555 1168,515 1173,530 1178,545 1183,520 1188,540 1193,520 1198,545 1203,525 1208,535 1213,520 1218,510 1223,530 1228,520 1233,510 1238,490 1243,500 1248,525 1253,495 1258,510 1263,525 1268,490 1273,475 1278,470 1283,465 1288,475 1293,480 1298,490 1303,500 1308,525 1313,495 1318,490 1323,510 1328,545 1333,575 1338,540 1343,525 1348,515 1353,510 1358,545 1363,555 1368,560 1373,540"/>
</g>

<!-- ===== ROW 4 LEFT ===== -->
<text x="379" y="1320" class="serif" font-size="21" fill="#595959" text-anchor="middle">仓单数量:白砂糖</text>
<g class="g">
<line x1="251.7" y1="1351" x2="586.7" y2="1351"/><line x1="251.7" y1="1391" x2="586.7" y2="1391"/><line x1="251.7" y1="1431" x2="586.7" y2="1431"/><line x1="251.7" y1="1471" x2="586.7" y2="1471"/><line x1="251.7" y1="1511" x2="586.7" y2="1511"/><line x1="251.7" y1="1551.7" x2="586.7" y2="1551.7"/>
<line x1="251.7" y1="1551.7" x2="251.7" y2="1556"/><line x1="280" y1="1551.7" x2="280" y2="1556"/><line x1="308.3" y1="1551.7" x2="308.3" y2="1556"/><line x1="336" y1="1551.7" x2="336" y2="1556"/><line x1="363.3" y1="1551.7" x2="363.3" y2="1556"/><line x1="391.7" y1="1551.7" x2="391.7" y2="1556"/><line x1="419.3" y1="1551.7" x2="419.3" y2="1556"/><line x1="447.3" y1="1551.7" x2="447.3" y2="1556"/><line x1="475.7" y1="1551.7" x2="475.7" y2="1556"/><line x1="503.3" y1="1551.7" x2="503.3" y2="1556"/><line x1="531.3" y1="1551.7" x2="531.3" y2="1556"/><line x1="559" y1="1551.7" x2="559" y2="1556"/>
</g>
<text class="yl" x="231" y="1356">100, 000. 00</text>
<text class="yl" x="231" y="1396">80, 000. 00</text>
<text class="yl" x="231" y="1436">60, 000. 00</text>
<text class="yl" x="231" y="1476">40, 000. 00</text>
<text class="yl" x="231" y="1516">20, 000. 00</text>
<text class="yl" x="231" y="1556.7">0. 00</text>
<g class="xr" font-size="16">
<text x="258" y="1577" transform="rotate(-45 258 1577)" textLength="86" lengthAdjust="spacingAndGlyphs">2012-08-23</text>
<text x="286.3" y="1577" transform="rotate(-45 286.3 1577)" textLength="86" lengthAdjust="spacingAndGlyphs">2013-08-23</text>
<text x="314.6" y="1577" transform="rotate(-45 314.6 1577)" textLength="86" lengthAdjust="spacingAndGlyphs">2014-08-23</text>
<text x="342.3" y="1577" transform="rotate(-45 342.3 1577)" textLength="86" lengthAdjust="spacingAndGlyphs">2015-08-23</text>
<text x="369.6" y="1577" transform="rotate(-45 369.6 1577)" textLength="86" lengthAdjust="spacingAndGlyphs">2016-08-23</text>
<text x="398" y="1577" transform="rotate(-45 398 1577)" textLength="86" lengthAdjust="spacingAndGlyphs">2017-08-23</text>
<text x="425.6" y="1577" transform="rotate(-45 425.6 1577)" textLength="86" lengthAdjust="spacingAndGlyphs">2018-08-23</text>
<text x="453.6" y="1577" transform="rotate(-45 453.6 1577)" textLength="86" lengthAdjust="spacingAndGlyphs">2019-08-23</text>
<text x="482" y="1577" transform="rotate(-45 482 1577)" textLength="86" lengthAdjust="spacingAndGlyphs">2020-08-23</text>
<text x="509.6" y="1577" transform="rotate(-45 509.6 1577)" textLength="86" lengthAdjust="spacingAndGlyphs">2021-08-23</text>
<text x="537.6" y="1577" transform="rotate(-45 537.6 1577)" textLength="86" lengthAdjust="spacingAndGlyphs">2022-08-23</text>
<text x="565.3" y="1577" transform="rotate(-45 565.3 1577)" textLength="86" lengthAdjust="spacingAndGlyphs">2023-08-23</text>
</g>
<g transform="translate(130,1290) scale(0.333333)">
<polyline fill="none" stroke="#1F3A55" stroke-width="11" stroke-linejoin="round" points="365,738 370,770 378,780 390,780 395,773 410,772 420,773 425,770 430,778 440,778 450,775 455,767 460,778 470,780 480,775 490,775 495,770 500,750 505,725 510,722 515,720 520,725 525,750 530,740 535,770 540,775 548,775 555,768 560,760 563,560 568,565 572,598 578,592 583,588 588,520 593,505 598,545 605,550 610,620 615,655 620,665 625,735 630,740 635,780 640,785 645,780 648,600 652,575 660,565 665,545 670,500 675,412 680,430 685,420 690,385 695,383 700,395 705,430 710,500 715,560 720,650 723,770 727,720 730,590 733,430 740,420 745,410 750,375 755,330 760,258 765,300 770,320 775,350 780,410 783,460 788,500 795,530 800,555 805,580 808,785 812,700 815,450 820,460 825,490 830,500 835,515 840,490 845,480 850,510 855,530 860,550 865,560 870,600 875,630 880,660 885,700 888,765 893,720 898,700 903,715 908,710 915,700 920,680 925,650 928,610 932,640 937,680 942,660 947,670 950,700 955,720 960,735 965,740 970,745 975,785 980,780 985,715 990,712 1000,712 1010,710 1015,700 1020,710 1030,715 1035,720 1040,735 1045,745 1055,745 1058,785 1063,770 1066,715 1070,710 1075,700 1080,650 1085,620 1090,590 1095,550 1098,545 1103,560 1108,575 1115,580 1120,595 1125,615 1130,640 1135,670 1140,700 1143,785 1147,680 1152,630 1160,610 1165,595 1170,595 1172,495 1178,495 1185,505 1190,525 1195,560 1200,590 1205,660 1210,700 1215,720 1220,735 1225,785 1230,775 1235,590 1240,585 1245,560 1250,520 1255,445 1260,430 1263,400 1268,395 1273,425 1278,445 1282,520 1286,570 1290,600 1295,610 1300,640 1305,680 1310,760 1313,765 1318,700 1323,680 1330,680 1335,675 1340,665 1345,630 1350,625 1355,635 1358,685 1363,688 1370,688"/>
</g>

<!-- ===== ROW 4 RIGHT: 基差 ===== -->
<text x="927.5" y="1320" class="serif" font-size="21" fill="#595959" text-anchor="middle">基差</text>
<g class="g">
<line x1="764" y1="1351" x2="1136" y2="1351"/><line x1="764" y1="1386" x2="1136" y2="1386"/><line x1="764" y1="1421" x2="1136" y2="1421"/><line x1="764" y1="1455.7" x2="1136" y2="1455.7"/><line x1="764" y1="1490.7" x2="1136" y2="1490.7"/><line x1="764" y1="1560.7" x2="1136" y2="1560.7"/><line x1="764" y1="1595.3" x2="1136" y2="1595.3"/><line x1="764" y1="1630" x2="1136" y2="1630"/>
</g>
<text class="yl" x="744" y="1356">1000</text>
<text class="yl" x="744" y="1391">800</text>
<text class="yl" x="744" y="1426">600</text>
<text class="yl" x="744" y="1460.7">400</text>
<text class="yl" x="744" y="1495.7">200</text>
<text class="yl" x="744" y="1530.7">0</text>
<text class="yl" x="751" y="1565.7" fill="#e02020" style="fill:#e02020">(200)</text>
<text class="yl" x="751" y="1600.3" fill="#e02020" style="fill:#e02020">(400)</text>
<text class="yl" x="751" y="1635" fill="#e02020" style="fill:#e02020">(600)</text>
<g transform="translate(680,1290) scale(0.333333)">
<path fill="#203852" d="M252,707 L253,545 L256,900 L259,650 L262,860 L265,720 L268,860 L271,760 L274,700 L276,570 L279,600 L282,560 L285,480 L288,430 L291,520 L294,440 L297,510 L300,440 L303,560 L306,460 L309,520 L312,380 L315,460 L318,285 L321,350 L324,310 L327,420 L330,380 L333,480 L336,400 L339,520 L342,600 L345,720 L348,710 L350,790 L354,810 L358,800 L362,760 L365,700 L368,600 L371,470 L374,400 L377,420 L380,470 L383,430 L386,420 L389,500 L392,440 L395,460 L398,370 L401,400 L404,360 L407,340 L410,300 L413,255 L416,380 L419,590 L422,600 L425,615 L428,600 L431,630 L434,610 L437,600 L440,715 L443,640 L446,520 L449,520 L452,505 L455,480 L458,470 L461,450 L464,410 L467,460 L470,480 L473,470 L476,500 L479,480 L482,480 L485,490 L488,480 L491,510 L494,530 L497,600 L500,560 L503,570 L506,590 L509,640 L512,660 L515,690 L518,800 L521,850 L524,800 L527,790 L530,860 L533,790 L536,830 L539,790 L542,940 L545,840 L548,900 L551,860 L554,890 L557,830 L560,920 L563,840 L566,800 L569,870 L572,945 L575,880 L578,720 L581,760 L584,800 L587,790 L590,820 L593,790 L596,810 L599,800 L602,850 L605,810 L608,780 L611,830 L613,670 L616,710 L619,850 L622,870 L625,820 L628,880 L631,840 L634,900 L637,830 L640,860 L643,720 L646,820 L649,780 L652,800 L655,760 L658,840 L661,830 L664,770 L667,800 L670,740 L673,720 L676,670 L679,760 L682,800 L685,780 L688,760 L691,790 L694,800 L697,770 L700,720 L703,760 L706,690 L709,820 L712,900 L715,840 L718,800 L721,790 L724,840 L727,770 L730,760 L733,820 L736,830 L739,760 L742,720 L745,660 L748,700 L751,760 L754,780 L757,740 L760,700 L763,680 L766,660 L769,655 L772,720 L775,640 L778,615 L781,600 L784,560 L787,520 L790,490 L793,520 L796,450 L799,540 L802,470 L805,450 L808,440 L811,520 L814,700 L817,760 L820,720 L823,470 L826,560 L829,520 L832,560 L835,580 L838,560 L841,580 L844,560 L847,570 L850,560 L853,520 L856,590 L859,500 L862,520 L865,540 L868,460 L871,450 L874,500 L877,520 L880,520 L883,530 L886,520 L889,540 L892,500 L895,520 L898,490 L901,530 L904,500 L907,520 L910,600 L913,540 L916,600 L919,590 L922,640 L925,580 L928,570 L931,620 L934,720 L937,580 L940,500 L943,520 L946,570 L949,560 L952,580 L955,600 L958,570 L961,590 L964,540 L967,470 L970,440 L973,420 L976,510 L979,570 L982,520 L985,590 L988,540 L991,580 L994,500 L997,560 L1000,600 L1003,590 L1006,560 L1009,500 L1012,460 L1015,480 L1018,345 L1021,380 L1024,470 L1027,560 L1030,580 L1033,610 L1036,520 L1039,560 L1042,600 L1045,520 L1048,520 L1051,440 L1054,460 L1057,500 L1060,530 L1063,550 L1066,590 L1069,600 L1072,650 L1075,760 L1078,660 L1081,740 L1084,700 L1087,650 L1090,680 L1093,650 L1096,680 L1099,700 L1102,740 L1105,680 L1108,620 L1111,620 L1114,660 L1117,640 L1120,680 L1123,700 L1126,780 L1129,850 L1132,820 L1135,860 L1138,900 L1141,880 L1144,800 L1147,760 L1150,650 L1153,690 L1156,680 L1159,700 L1162,670 L1165,690 L1168,700 L1171,760 L1174,780 L1177,700 L1180,720 L1183,680 L1186,720 L1189,700 L1192,640 L1195,590 L1198,600 L1201,580 L1204,570 L1207,580 L1210,600 L1213,590 L1216,610 L1219,660 L1222,640 L1225,700 L1228,780 L1231,720 L1234,740 L1237,720 L1240,700 L1243,740 L1246,720 L1249,690 L1252,620 L1255,640 L1258,720 L1261,600 L1264,540 L1267,420 L1270,440 L1273,410 L1276,430 L1279,480 L1282,420 L1285,440 L1288,390 L1291,340 L1294,255 L1297,260 L1300,320 L1303,440 L1306,520 L1309,450 L1312,430 L1315,395 L1318,460 L1321,520 L1324,560 L1327,600 L1330,560 L1333,590 L1336,600 L1339,480 L1342,470 L1345,460 L1348,460 L1351,500 L1354,410 L1357,520 L1360,600 L1363,500 L1366,325 L1368,400 L1368,707 Z"/>
</g>
<line x1="764" y1="1525.7" x2="1136" y2="1525.7" stroke="#d0d0d0" stroke-width="1.2"/>
<g class="xr" font-size="16">
<text x="772" y="1549" transform="rotate(-45 772 1549)" textLength="86" lengthAdjust="spacingAndGlyphs">2010-12-10</text>
<text x="799.7" y="1549" transform="rotate(-45 799.7 1549)" textLength="86" lengthAdjust="spacingAndGlyphs">2011-12-10</text>
<text x="827" y="1549" transform="rotate(-45 827 1549)" textLength="86" lengthAdjust="spacingAndGlyphs">2012-12-10</text>
<text x="854.7" y="1549" transform="rotate(-45 854.7 1549)" textLength="86" lengthAdjust="spacingAndGlyphs">2013-12-10</text>
<text x="882.3" y="1549" transform="rotate(-45 882.3 1549)" textLength="86" lengthAdjust="spacingAndGlyphs">2014-12-10</text>
<text x="908.7" y="1549" transform="rotate(-45 908.7 1549)" textLength="86" lengthAdjust="spacingAndGlyphs">2015-12-10</text>
<text x="936.3" y="1549" transform="rotate(-45 936.3 1549)" textLength="86" lengthAdjust="spacingAndGlyphs">2016-12-10</text>
<text x="963.3" y="1549" transform="rotate(-45 963.3 1549)" textLength="86" lengthAdjust="spacingAndGlyphs">2017-12-10</text>
<text x="990" y="1549" transform="rotate(-45 990 1549)" textLength="86" lengthAdjust="spacingAndGlyphs">2018-12-10</text>
<text x="1017" y="1549" transform="rotate(-45 1017 1549)" textLength="86" lengthAdjust="spacingAndGlyphs">2019-12-10</text>
<text x="1044.7" y="1549" transform="rotate(-45 1044.7 1549)" textLength="86" lengthAdjust="spacingAndGlyphs">2020-12-10</text>
<text x="1071.3" y="1549" transform="rotate(-45 1071.3 1549)" textLength="86" lengthAdjust="spacingAndGlyphs">2021-12-10</text>
<text x="1098.7" y="1549" transform="rotate(-45 1098.7 1549)" textLength="86" lengthAdjust="spacingAndGlyphs">2022-12-10</text>
<text x="1125.7" y="1549" transform="rotate(-45 1125.7 1549)" textLength="86" lengthAdjust="spacingAndGlyphs">2023-12-10</text>
</g>

<!-- FOOTER -->
<text x="188" y="1682" class="serif" font-size="14" fill="#111">数据来源：Wind 资讯</text>
<text x="190" y="1714" font-family="'Noto Sans CJK SC',sans-serif" font-size="20" fill="#5b6170" textLength="290" lengthAdjust="spacingAndGlyphs">请务必阅读正文之后的免责声明</text>
</svg>
</body></html>
